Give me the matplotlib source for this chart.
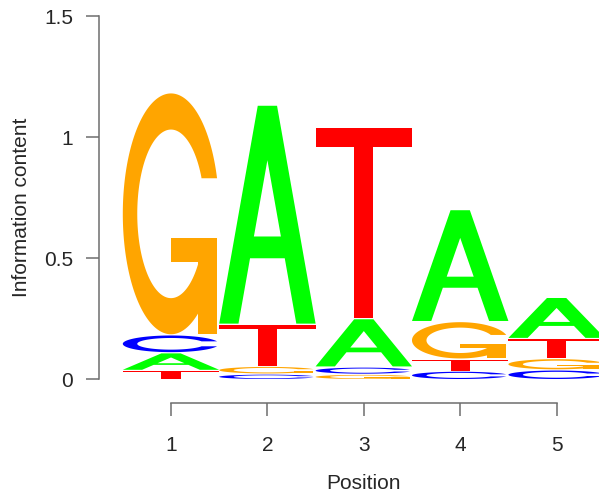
import numpy as np
import matplotlib
matplotlib.use('Agg')
import matplotlib.pyplot as plt
from matplotlib.patches import Polygon

# ---- data (information content per base and position) ----
positions = [1, 2, 3, 4, 5]
bases = ['A', 'C', 'G', 'T']
height_A = [0.068, 0.901, 0.195, 0.458, 0.165]
height_C = [0.069, 0.018, 0.025, 0.030, 0.035]
height_G = [0.996, 0.027, 0.017, 0.150, 0.042]
height_T = [0.033, 0.169, 0.785, 0.045, 0.078]
y_ticks = [0, 0.5, 1, 1.5]
y_tick_labels = ['0', '0.5', '1', '1.5']
x_tick_labels = ['1', '2', '3', '4', '5']

plt.rcParams['font.family'] = ['Liberation Sans', 'DejaVu Sans']

COL = {'A': '#00FF00', 'C': '#0000FF', 'G': '#FFA500', 'T': '#FF0000'}
GAP = 0.005


def ring():
    a1 = np.linspace(0.3 + np.pi / 2, np.pi, 100)
    a2 = np.linspace(np.pi, 1.5 * np.pi, 100)
    xl1 = 0.5 + 0.5 * np.sin(a1); yl1 = 0.5 + 0.5 * np.cos(a1)
    xl2 = 0.5 + 0.5 * np.sin(a2); yl2 = 0.5 + 0.5 * np.cos(a2)
    xl = np.r_[xl1, xl2]; yl = np.r_[yl1, yl2]
    x = np.r_[xl, xl[::-1]]; y = np.r_[yl, 1 - yl[::-1]]
    xi1 = 0.5 + 0.35 * np.sin(a1); yi1 = 0.5 + 0.35 * np.cos(a1)
    m = yi1 <= yl1.max()
    xi1 = xi1[m]; yi1 = yi1[m].copy(); yi1[0] = yl1.max()
    xi2 = 0.5 + 0.35 * np.sin(a2); yi2 = 0.5 + 0.35 * np.cos(a2)
    xi = np.r_[xi1, xi2]; yi = np.r_[yi1, yi2]
    x1 = np.r_[xi, xi[::-1]]; y1 = np.r_[yi, 1 - yi[::-1]]
    return np.r_[x, x1[::-1]], np.r_[y, y1[::-1]], xl1.max()


def shapes(letter):
    if letter == 'A':
        x = np.array([0, 4, 6, 10, 8, 6.8, 3.2, 2, 0]) / 10
        y = np.array([0, 10, 10, 0, 0, 3, 3, 0, 0]) / 10
        xi = np.array([3.6, 5, 6.4]) / 10
        yi = np.array([4, 7.5, 4]) / 10
        return [(x, y, COL['A']), (xi, yi, 'white')]
    if letter == 'T':
        x = np.array([0, 10, 10, 6, 6, 4, 4, 0]) / 10
        y = np.array([10, 10, 9, 9, 0, 0, 9, 9]) / 10
        return [(x, y, COL['T'])]
    x, y, r1 = ring()
    if letter == 'C':
        return [(x, y, COL['C'])]
    h1 = 0.4
    xa = np.array([r1, 0.5, 0.5, r1 - 0.2, r1 - 0.2, r1, r1])
    ya = np.array([h1, h1, h1 - 0.1, h1 - 0.1, 0, 0, h1])
    return [(x, y, COL['G']), (xa, ya, COL['G'])]


W, H = 599, 494
fig = plt.figure(figsize=(W / 100, H / 100), dpi=100)
px_per_x = 96.4
x_left = 1 - (171 - 99) / px_per_x
x_right = x_left + (W - 99) / px_per_x
ax = fig.add_axes([99 / W, (H - 379) / H, (W - 99) / W, (379 - 16.3) / H])
ax.set_xlim(x_left, x_right)
ax.set_ylim(0, 1.5)

heights = {'A': height_A, 'C': height_C, 'G': height_G, 'T': height_T}
for j, pos in enumerate(positions):
    col = np.array([heights[b][j] for b in bases])
    order = np.argsort(col, kind='stable')
    ypos = 0.0
    for k in order:
        b = bases[k]
        ht = col[k]
        if ht > 0:
            for sx, sy, c in shapes(b):
                xy = np.column_stack([pos - 0.5 + sx, ypos + ht * sy])
                ax.add_patch(Polygon(xy, closed=True, facecolor=c,
                                     edgecolor='none', linewidth=0,
                                     clip_on=False))
        ypos += ht + GAP

line_col = '#6e6e6e'
txt_col = '#262626'
for s in ['top', 'right']:
    ax.spines[s].set_visible(False)
ax.spines['left'].set_bounds(0, 1.5)
ax.spines['left'].set_color(line_col)
ax.spines['left'].set_linewidth(1.1)
ax.spines['bottom'].set_position(('outward', 24 * 0.72))
ax.spines['bottom'].set_bounds(1, 5)
ax.spines['bottom'].set_color(line_col)
ax.spines['bottom'].set_linewidth(1.1)

ax.set_yticks(y_ticks)
ax.set_yticklabels(y_tick_labels)
ax.set_xticks(positions)
ax.set_xticklabels(x_tick_labels)
ax.tick_params(axis='y', length=13 * 0.72, width=1.1, color=line_col,
               pad=13 * 0.72, labelsize=15, labelcolor=txt_col)
ax.tick_params(axis='x', length=13 * 0.72, width=1.1, color=line_col,
               pad=14.5, labelsize=15, labelcolor=txt_col)

fig.text(21.5 / W, 1 - 207 / H, 'Information content', rotation=90,
         ha='center', va='center', fontsize=15, color=txt_col)
fig.text(364 / W, 1 - 483.5 / H, 'Position', ha='center', va='center',
         fontsize=15, color=txt_col)

fig.savefig('out.png', dpi=100, facecolor='white')
